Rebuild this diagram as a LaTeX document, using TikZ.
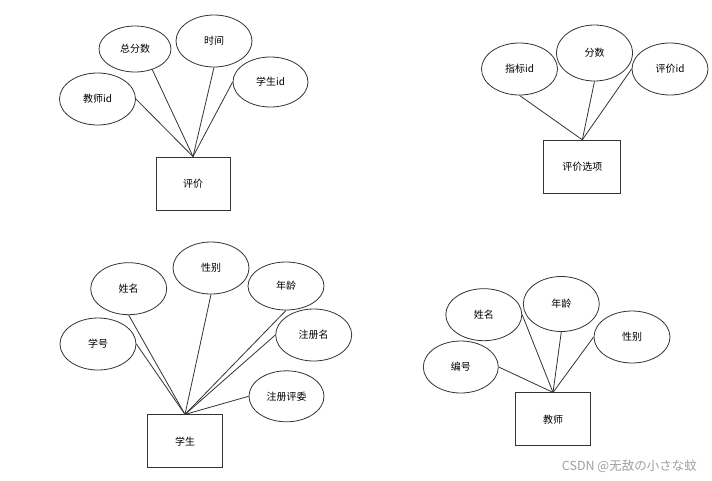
\documentclass[tikz,border=0pt]{standalone}
\usepackage{fontspec}
\setmainfont{Noto Sans CJK SC}
\usetikzlibrary{shapes.geometric}
\definecolor{ln}{HTML}{333333}
\definecolor{wm}{HTML}{A0A0A0}
\tikzset{
  attr/.style={draw=ln, line width=0.8pt, ellipse, minimum width=76pt, minimum height=52pt, inner sep=0pt, font=\fontsize{10}{12}\selectfont},
  ent/.style={draw=ln, line width=0.8pt, rectangle, minimum width=75pt, minimum height=53pt, inner sep=0pt, font=\fontsize{10}{12}\selectfont},
  conn/.style={draw=ln, line width=0.8pt}
}
\begin{document}
\begin{tikzpicture}[x=1pt,y=-1pt]
\useasboundingbox[fill=white] (0,0) rectangle (712,480);
% group 1
\node[attr, minimum height=52pt] (a1) at (97.5,99) {教师id};
\node[attr, minimum width=72pt, minimum height=46pt] (a2) at (135,49) {总分数};
\node[attr, minimum height=52pt] (a3) at (214,41) {时间};
\node[attr, minimum width=75pt, minimum height=50pt] (a4) at (270.5,82) {学生id};
\node[ent, minimum width=74pt] (e1) at (193,183.5) {评价};
\draw[conn] (a1.east) -- (e1.north);
\draw[conn] (a2.-50) -- (e1.north);
\draw[conn] (a3.south) -- (e1.north);
\draw[conn] (a4.west) -- (e1.north);
% group 2
\node[attr] (b1) at (519.5,69) {指标id};
\node[attr, minimum height=56pt] (b2) at (594.5,53) {分数};
\node[attr] (b3) at (670,69) {评价id};
\node[ent, minimum width=77pt] (e2) at (582.3,166.7) {评价选项};
\draw[conn] (b1.south) -- (e2.north);
\draw[conn] (b2.south) -- (e2.north);
\draw[conn] (b3.west) -- (e2.north);
% group 3
\node[attr] (c1) at (98,344) {学号};
\node[attr] (c2) at (128.7,288.7) {姓名};
\node[attr] (c3) at (211,268) {性别};
\node[attr, minimum height=48pt] (c4) at (286,286) {年龄};
\node[attr] (c5) at (313.7,335) {注册名};
\node[attr, minimum width=75pt, minimum height=51pt] (c6) at (286.5,396.3) {注册评委};
\node[ent] (e3) at (185,441.3) {学生};
\draw[conn] (c1.east) -- (e3.north);
\draw[conn] (c2.south) -- (e3.north);
\draw[conn] (c3.south) -- (e3.north);
\draw[conn] (c4.south) -- (e3.north);
\draw[conn] (c5.west) -- (e3.north);
\draw[conn] (c6.west) -- (e3.north);
% group 4
\node[attr, minimum width=75pt] (d1) at (460.8,367) {编号};
\node[attr] (d2) at (483.8,314.7) {姓名};
\node[attr, minimum height=55pt] (d3) at (561.3,304) {年龄};
\node[attr] (d4) at (632,337) {性别};
\node[ent] (e4) at (553,419.3) {教师};
\draw[conn] (d1.east) -- (e4.north);
\draw[conn] (d2.east) -- (e4.north);
\draw[conn] (d3.south) -- (e4.north);
\draw[conn] (d4.west) -- (e4.north);
% watermark
\node[text=wm, font=\fontsize{12.5}{14}\selectfont, inner sep=0pt, anchor=east] (wmk) at (697,466.5) {CSDN @无敌の小さな蚊};
\end{tikzpicture}
\end{document}
